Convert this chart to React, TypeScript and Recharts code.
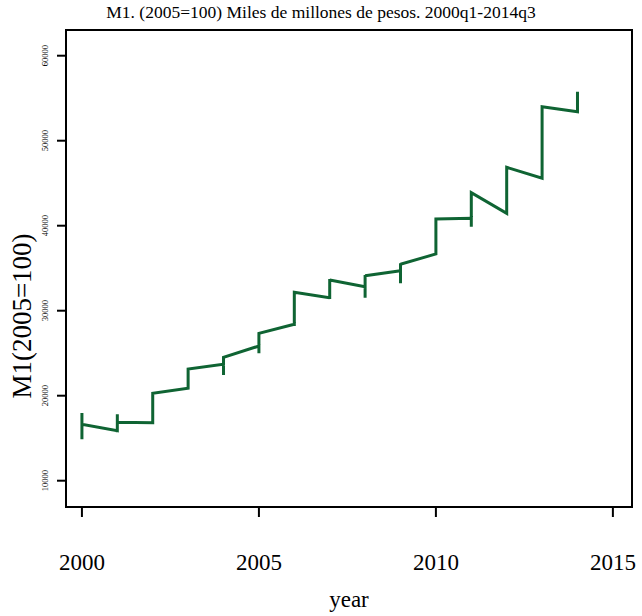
import React from 'react';
import { LineChart, Line, XAxis, YAxis, ReferenceArea, Label } from 'recharts';

// quarterly M1, plotted against the year only (4 points per year)
const years = [2000, 2001, 2002, 2003, 2004, 2005, 2006, 2007, 2008, 2009, 2010, 2011, 2012, 2013, 2014];
const m1ByYear = [
  [16000, 17965, 14870, 16635],
  [15882, 17812, 15694, 16871],
  [16824, 18000, 19000, 20283],
  [20871, 21800, 22500, 23141],
  [23694, 24589, 22435, 24518],
  [25848, 24988, 26500, 27341],
  [28400, 28200, 30000, 32165],
  [31530, 31377, 33730, 33612],
  [32824, 31530, 34200, 34118],
  [34706, 33224, 35577, 35459],
  [36671, 38000, 39500, 40789],
  [40871, 39883, 42000, 43883],
  [41460, 43000, 44200, 46871],
  [45577, 46750, 50280, 54000],
  [53412, 54788, 55765],
];
const xTicks = [2000, 2005, 2010, 2015];
const yTicks = [10000, 20000, 30000, 40000, 50000, 60000];
const title = 'M1. (2005=100) Miles de millones de pesos. 2000q1-2014q3';

const data = years.flatMap((year, i) => m1ByYear[i].map((m1) => ({ year, m1 })));

const font = 'Liberation Serif, serif';

const YTick = (props: any) => {
  const { y, payload } = props;
  return (
    <text x={48} y={y} transform={`rotate(-90 48 ${y})`} textAnchor="middle" fontSize={8.5} fontFamily={font} fill="#000">
      {payload.value}
    </text>
  );
};

const XTick = (props: any) => {
  const { x, payload } = props;
  return (
    <text x={x} y={570} textAnchor="middle" fontSize={23} fontFamily={font} fill="#000">
      {payload.value}
    </text>
  );
};

const YTitle = () => (
  <text x={31} y={316} transform="rotate(-90 31 316)" textAnchor="middle" fontSize={27} fontFamily={font} fill="#000">
    M1(2005=100)
  </text>
);

const XTitle = () => (
  <g>
    <text x={349} y={607} textAnchor="middle" fontSize={23} fontFamily={font} fill="#000">
      year
    </text>
    <text x={321} y={18} textAnchor="middle" fontSize={17.5} fontFamily={font} fill="#000">
      {title}
    </text>
  </g>
);

export default function App() {
  return (
    <div style={{ position: 'absolute', left: 0, top: 0, width: 642, height: 616, background: '#fff' }}>
      <LineChart width={642} height={616} data={data} margin={{ top: 30, right: 10, bottom: 49, left: 30 }}>
        <XAxis
          dataKey="year"
          type="number"
          domain={[1999.55, 2015.54]}
          ticks={xTicks}
          tick={<XTick />}
          tickSize={10}
          height={60}
          axisLine={{ stroke: '#000', strokeWidth: 2 }}
          tickLine={{ stroke: '#000', strokeWidth: 2 }}
          allowDataOverflow
        >
          <Label content={<XTitle />} />
        </XAxis>
        <YAxis
          type="number"
          domain={[6906, 63024]}
          ticks={yTicks}
          tick={<YTick />}
          tickSize={9}
          width={36}
          axisLine={{ stroke: '#000', strokeWidth: 2 }}
          tickLine={{ stroke: '#000', strokeWidth: 2 }}
          allowDataOverflow
        >
          <Label content={<YTitle />} />
        </YAxis>
        <ReferenceArea x1={1999.55} x2={2015.54} y1={6906} y2={63024} fill="none" stroke="#000" strokeWidth={2} />
        <Line
          type="linear"
          dataKey="m1"
          stroke="#0f6433"
          strokeWidth={3}
          dot={false}
          isAnimationActive={false}
        />
      </LineChart>
    </div>
  );
}
